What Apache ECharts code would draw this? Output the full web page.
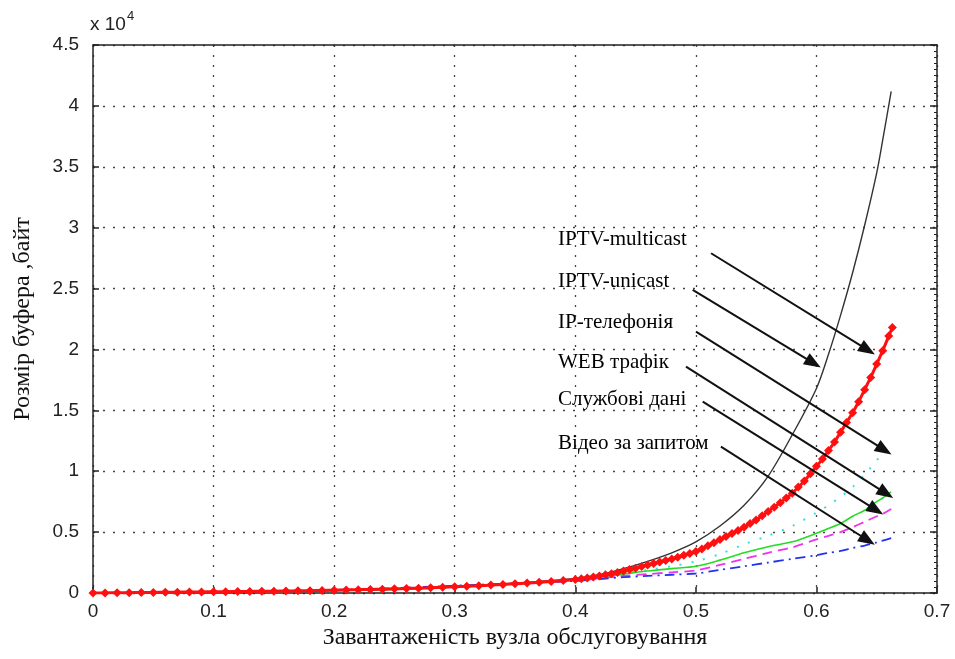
<!DOCTYPE html>
<html><head><meta charset="utf-8">
<script src="https://cdn.jsdelivr.net/npm/echarts@6/dist/echarts.min.js"></script>
<style>html,body{margin:0;padding:0;background:#fff}#c{width:955px;height:659px}</style>
</head><body><div id="c"></div>
<script>
// Load of the service node (x axis)
const load = [0,0.05,0.1,0.15,0.2,0.25,0.3,0.35,0.4,0.42,0.44,0.46,0.48,0.5,0.52,0.54,0.56,0.58,0.6,0.61,0.62,0.63,0.64,0.65,0.655,0.662];
// Buffer size, x 10^4 bytes
const blackSolid = [0,0.003,0.008,0.013,0.02,0.03,0.05,0.08,0.12,0.15,0.2,0.26,0.33,0.42,0.55,0.72,0.96,1.3,1.68,1.96,2.28,2.63,3.02,3.45,3.72,4.12];
const cyanDotted = [0,0.003,0.008,0.013,0.02,0.03,0.05,0.075,0.11,0.13,0.16,0.19,0.22,0.26,0.32,0.4,0.47,0.55,0.66,0.72,0.79,0.87,0.97,1.09,1.14,1.2];
const greenSolid = [0,0.003,0.008,0.013,0.02,0.03,0.05,0.075,0.11,0.13,0.155,0.18,0.2,0.22,0.27,0.33,0.38,0.42,0.49,0.53,0.57,0.63,0.68,0.75,0.78,0.83];
const magentaDashed = [0,0.003,0.008,0.013,0.022,0.033,0.053,0.075,0.1,0.12,0.14,0.155,0.17,0.185,0.23,0.28,0.33,0.375,0.44,0.47,0.5,0.54,0.585,0.63,0.65,0.69];
const blueDashDot = [0,0.003,0.008,0.015,0.025,0.04,0.06,0.08,0.1,0.115,0.13,0.14,0.15,0.16,0.19,0.22,0.25,0.28,0.31,0.33,0.345,0.37,0.39,0.415,0.43,0.45];
// Red diamond series (denser sampling)
const loadRed = [0,0.01,0.02,0.03,0.04,0.05,0.06,0.07,0.08,0.09,0.1,0.11,0.12,0.13,0.14,0.15,0.16,0.17,0.18,0.19,0.2,0.21,0.22,0.23,0.24,0.25,0.26,0.27,0.28,0.29,0.3,0.31,0.32,0.33,0.34,0.35,0.36,0.37,0.38,0.39,0.4,
  0.405,0.41,0.415,0.42,0.425,0.43,0.435,0.44,0.445,0.45,0.455,0.46,0.465,0.47,0.475,0.48,0.485,0.49,0.495,0.5,0.505,0.51,0.515,0.52,0.525,0.53,0.535,0.54,0.545,0.55,0.555,0.56,0.565,0.57,0.575,0.58,0.585,0.59,0.595,0.6,0.605,0.61,0.615,0.62,0.625,0.63,0.635,0.64,0.645,0.65,0.655,0.66,0.663];
const redDiamond = [0,0.001,0.002,0.003,0.004,0.005,0.006,0.007,0.008,0.009,0.010,0.011,0.012,0.013,0.014,0.015,0.016,0.018,0.019,0.021,0.023,0.025,0.027,0.029,0.031,0.034,0.037,0.040,0.043,0.047,0.051,0.055,0.060,0.065,0.070,0.076,0.082,0.088,0.095,0.102,0.11,
  0.117,0.124,0.131,0.14,0.149,0.159,0.169,0.18,0.192,0.204,0.217,0.23,0.242,0.254,0.267,0.28,0.294,0.309,0.324,0.34,0.362,0.388,0.413,0.44,0.463,0.488,0.513,0.54,0.57,0.60,0.635,0.67,0.705,0.742,0.78,0.82,0.87,0.92,0.98,1.04,1.10,1.17,1.24,1.32,1.40,1.48,1.57,1.67,1.77,1.88,1.99,2.11,2.18];
const xTicks = ['0','0.1','0.2','0.3','0.4','0.5','0.6','0.7'];
const yTicks = ['0','0.5','1','1.5','2','2.5','3','3.5','4','4.5'];
// Annotations: label, label anchor [load, value], arrow start, arrow tip
const labels = ['IPTV-multicast','IPTV-unicast','IP-телефонія','WEB трафік','Службові дані','Відео за запитом'];
const labelAt = [[0.3857,2.90],[0.3857,2.56],[0.3857,2.225],[0.3857,1.895],[0.3857,1.585],[0.3857,1.23]];
const arrowFrom = [[0.5126,2.79],[0.4974,2.49],[0.5001,2.146],[0.4918,1.859],[0.5057,1.571],[0.5208,1.202]];
const arrowTo = [[0.6425,1.996],[0.5976,1.887],[0.6563,1.175],[0.6577,0.818],[0.6494,0.682],[0.6425,0.433]];

const pairs = (xs, ys) => xs.map((x, i) => [x, ys[i]]);
const chart = echarts.init(document.getElementById('c'), null, {renderer: 'canvas'});
const tickFont = {fontFamily: 'Liberation Sans, Arial, sans-serif', fontSize: 19, color: '#222'};
const frame = {show: true, onZero: false, lineStyle: {color: '#222', width: 1.5}};
const grid = {lineStyle: {color: '#444', type: [2, 8], width: 1.3}};
const serif = 'Liberation Serif, Times New Roman, serif';

chart.setOption({
  animation: false,
  backgroundColor: '#fff',
  grid: {left: 93, right: 18, top: 45, bottom: 66},
  xAxis: [{
    type: 'value', min: 0, max: 0.7, interval: 0.1, position: 'bottom',
    axisLine: frame, axisTick: {show: true, inside: true, length: 6, lineStyle: {color: '#222', width: 1.5}},
    axisLabel: Object.assign({margin: 9, formatter: v => xTicks[Math.round(v * 10)]}, tickFont),
    splitLine: Object.assign({show: true}, grid),
    name: 'Завантаженість вузла обслуговування', nameLocation: 'middle', nameGap: 33,
    nameTextStyle: {fontFamily: serif, fontSize: 24, color: '#111'}
  }, {
    type: 'value', min: 0, max: 0.7, interval: 0.1, position: 'top',
    axisLine: frame, axisTick: {show: false}, axisLabel: {show: false}, splitLine: {show: false}
  }],
  yAxis: [{
    type: 'value', min: 0, max: 4.5, interval: 0.5, position: 'left',
    axisLine: frame, axisTick: {show: true, inside: true, length: 6, lineStyle: {color: '#222', width: 1.5}},
    axisLabel: Object.assign({margin: 14, formatter: v => yTicks[Math.round(v * 2)]}, tickFont),
    splitLine: Object.assign({show: true}, grid),
    name: 'Розмір буфера ,байт', nameLocation: 'middle', nameGap: 58, nameRotate: 90,
    nameTextStyle: {fontFamily: serif, fontSize: 24, color: '#111'}
  }, {
    type: 'value', min: 0, max: 4.5, interval: 0.5, position: 'right',
    axisLine: frame, axisTick: {show: true, inside: true, length: 7, lineStyle: {color: '#222', width: 1.5}},
    minorTick: {show: true, splitNumber: 10, length: 3, lineStyle: {color: '#222', width: 1}},
    axisLabel: {show: false}, splitLine: {show: false}
  }],
  graphic: [{
    type: 'text', left: 90, top: 10,
    style: {
      text: '{a|x 10}{b|4}',
      rich: {
        a: {fontFamily: 'Liberation Sans, Arial, sans-serif', fontSize: 19, fill: '#222', padding: [7, 0, 0, 0]},
        b: {fontFamily: 'Liberation Sans, Arial, sans-serif', fontSize: 13, fill: '#222', padding: [0, 0, 9, 1]}
      }
    }
  }],
  series: [
    {name: 'IPTV-unicast', type: 'line', data: pairs(load, blackSolid), smooth: 0.3, showSymbol: false,
     lineStyle: {color: '#333', width: 1.4}, z: 3},
    {name: 'IP-телефонія', type: 'line', data: pairs(load, cyanDotted), smooth: 0.3, showSymbol: false,
     lineStyle: {color: '#33e0e0', width: 2, type: [2, 10]}, z: 2},
    {name: 'WEB трафік', type: 'line', data: pairs(load, greenSolid), smooth: 0.3, showSymbol: false,
     lineStyle: {color: '#22dd22', width: 1.6}, z: 2},
    {name: 'Службові дані', type: 'line', data: pairs(load, magentaDashed), smooth: 0.3, showSymbol: false,
     lineStyle: {color: '#ee33ee', width: 1.8, type: [10, 6]}, z: 2},
    {name: 'Відео за запитом', type: 'line', data: pairs(load, blueDashDot), smooth: 0.3, showSymbol: false,
     lineStyle: {color: '#2233ee', width: 1.8, type: [10, 5, 2, 5]}, z: 2},
    {name: 'IPTV-multicast', type: 'line', data: pairs(loadRed, redDiamond), smooth: 0.2,
     symbol: 'diamond', symbolSize: 9, showSymbol: true, showAllSymbol: true,
     itemStyle: {color: '#ff1010'}, lineStyle: {color: '#ff1010', width: 3}, z: 4},
    {name: 'annotations', type: 'scatter', data: labelAt.map((p, i) => ({value: p, name: labels[i]})),
     symbolSize: 0, silent: true, z: 6,
     label: {show: true, position: 'right', distance: 0, formatter: p => p.name,
       fontFamily: serif, fontSize: 21, color: '#000', opacity: 1},
     markLine: {silent: true, symbol: ['none', 'triangle'], symbolSize: [13, 17], precision: 4,
       lineStyle: {color: '#111', width: 2, type: 'solid'}, label: {show: false},
       data: arrowFrom.map((f, i) => [{coord: f}, {coord: arrowTo[i]}])}
    }
  ]
});
</script></body></html>
